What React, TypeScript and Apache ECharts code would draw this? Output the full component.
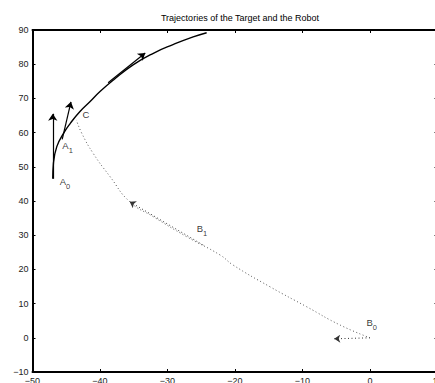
import React, { useEffect, useRef } from "react";
import * as echarts from "echarts";

const titleText = "Trajectories of the Target and the Robot";

const xTicks = [-50, -40, -30, -20, -10, 0, 10];
const yTicks = [-10, 0, 10, 20, 30, 40, 50, 60, 70, 80, 90];

// Target trajectory (solid)
const targetX = [-47.0, -46.9, -46.4, -45.4, -44.4, -43.0, -41.5, -40.0, -38.0, -35.1, -32.1, -29.1, -26.2, -24.2];
const targetY = [46.5, 51.0, 55.9, 59.8, 62.7, 66.1, 69.0, 72.0, 75.4, 79.8, 83.2, 85.8, 88.0, 89.2];

// Robot trajectory (dotted)
const robotX = [0, -4.4, -9.4, -14.8, -20.3, -22.2, -27.2, -32.1, -35.6, -38.5, -41.0, -42.7, -43.5];
const robotY = [0, 3.7, 9.1, 14.9, 21.3, 24.2, 29.6, 35.4, 39.8, 47.1, 53.9, 59.8, 63.7];

// Velocity arrows: [x1, y1, x2, y2]
const targetArrows = [
  [-47.0, 46.5, -47.0, 65.5],
  [-45.6, 58.0, -44.3, 69.0],
  [-38.8, 74.6, -33.3, 83.3],
];
const robotArrows = [
  [0, 0, -5.3, -0.3],
  [-24.7, 27.1, -35.6, 39.8],
];

// Point labels: [main, subscript, x, y]
const pointLabels: [string, string, number, number][] = [
  ["A", "0", -45.2, 45.0],
  ["A", "1", -44.8, 55.5],
  ["C", "", -42.1, 64.8],
  ["B", "1", -24.9, 31.5],
  ["B", "0", 0.25, 3.9],
];

const FONT = "'Liberation Sans', Arial, Helvetica, sans-serif";

export default function App() {
  const ref = useRef<HTMLDivElement>(null);
  useEffect(() => {
    if (!ref.current) return;
    const chart = echarts.init(ref.current, undefined, { renderer: "svg" });
    const fmt = (v: number) => String(v).replace("-", "\u2212");
    const axisLine = { show: true, onZero: false, lineStyle: { color: "#000", width: 2 } };
    const axisTick = { show: true, inside: true, length: 3, lineStyle: { color: "#000", width: 1 } };
    const option: any = {
      animation: false,
      backgroundColor: "#fff",
      color: ["#000"],
      textStyle: { fontFamily: FONT, color: "#000" },
      title: {
        text: titleText,
        left: 235,
        top: 8,
        textAlign: "center",
        textStyle: { fontSize: 9, fontWeight: "normal", color: "#000", fontFamily: FONT },
      },
      grid: { left: 32.5, right: 12.5, top: 30, bottom: 23, containLabel: false },
      xAxis: [
        {
          type: "value",
          min: xTicks[0],
          max: xTicks[xTicks.length - 1],
          interval: 10,
          position: "bottom",
          axisLine,
          axisTick,
          splitLine: { show: false },
          axisLabel: { fontSize: 9, color: "#222", margin: 4, formatter: fmt, fontFamily: FONT },
        },
        {
          type: "value",
          min: xTicks[0],
          max: xTicks[xTicks.length - 1],
          interval: 10,
          position: "top",
          axisLine,
          axisTick,
          splitLine: { show: false },
          axisLabel: { show: false },
        },
      ],
      yAxis: [
        {
          type: "value",
          min: yTicks[0],
          max: yTicks[yTicks.length - 1],
          interval: 10,
          position: "left",
          axisLine,
          axisTick,
          splitLine: { show: false },
          axisLabel: { fontSize: 9, color: "#222", margin: 4, formatter: fmt, fontFamily: FONT },
        },
        {
          type: "value",
          min: yTicks[0],
          max: yTicks[yTicks.length - 1],
          interval: 10,
          position: "right",
          axisLine,
          axisTick,
          splitLine: { show: false },
          axisLabel: { show: false },
        },
      ],
      series: [
        {
          type: "line",
          data: targetX.map((x, i) => [x, targetY[i]]),
          smooth: true,
          symbol: "none",
          lineStyle: { color: "#000", width: 1.4 },
        },
        {
          type: "line",
          data: robotX.map((x, i) => [x, robotY[i]]),
          smooth: true,
          symbol: "none",
          lineStyle: { color: "#555", width: 1, type: [1, 2.5] },
        },
        {
          type: "lines",
          coordinateSystem: "cartesian2d",
          symbol: ["none", "arrow"],
          symbolSize: 7,
          lineStyle: { color: "#000", width: 1.2, opacity: 1 },
          data: targetArrows.map((a) => ({ coords: [[a[0], a[1]], [a[2], a[3]]] })),
        },
        {
          type: "lines",
          coordinateSystem: "cartesian2d",
          symbol: ["none", "arrow"],
          symbolSize: 6,
          lineStyle: { color: "#333", width: 1, type: [1, 2.5], opacity: 1 },
          data: robotArrows.map((a) => ({ coords: [[a[0], a[1]], [a[2], a[3]]] })),
        },
        {
          type: "scatter",
          symbolSize: 0,
          silent: true,
          itemStyle: { color: "#000" },
          data: pointLabels.map((p) => ({ value: [p[2], p[3]], name: p[0] })),
          label: {
            show: true,
            position: [0, 0],
            align: "center",
            verticalAlign: "middle",
            color: "#000",
            formatter: (params: any) => {
              const p = pointLabels[params.dataIndex];
              return p[1] ? `{m|${p[0]}}{s|${p[1]}}` : `{m|${p[0]}}`;
            },
            rich: {
              m: { fontSize: 9.5, color: "#000", fontFamily: FONT, verticalAlign: "top", lineHeight: 14 },
              s: { fontSize: 7.5, color: "#000", fontFamily: FONT, padding: [6, 0, 0, 0], verticalAlign: "top", lineHeight: 14 },
            },
          },
        },
      ],
    };
    chart.setOption(option);
    return () => chart.dispose();
  }, []);
  return (
    <div style={{ position: "fixed", left: 0, top: 0, width: 435, height: 383, overflow: "hidden", background: "#fff" }}>
      <div ref={ref} style={{ width: 450, height: 395 }} />
    </div>
  );
}
